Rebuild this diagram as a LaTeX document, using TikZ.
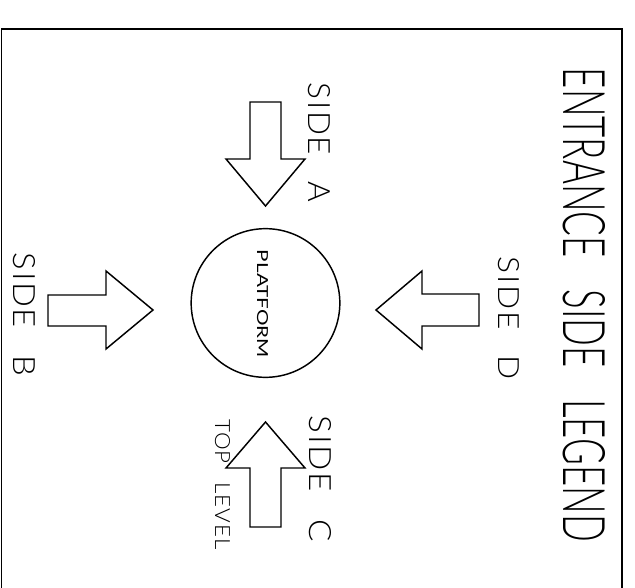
\documentclass[tikz,border=0pt]{standalone}
\usepackage{fontspec}
\IfFontExistsTF{Lato Light}
  {\newfontfamily\cadfont[WordSpace=3.2]{Lato Light}
   \newfontfamily\cadsidefont[WordSpace=2.6,LetterSpace=5]{Lato Light}
   \newfontfamily\cadsmallfont[WordSpace=1.5]{Lato}}
  {\newfontfamily\cadfont[WordSpace=3.2]{DejaVu Sans Mono}
   \newfontfamily\cadsidefont{DejaVu Sans Mono}
   \newfontfamily\cadsmallfont{DejaVu Sans Mono}}
\usepackage{xcolor}

\tikzset{
  legend text/.style={rotate=-90, inner sep=0pt, font=\cadfont},
  side text/.style={rotate=-90, inner sep=0pt, font=\cadsidefont},
  small text/.style={rotate=-90, inner sep=0pt, font=\cadsmallfont},
  block arrow/.style={line width=1.1pt, line join=miter},
}

\begin{document}
\begin{tikzpicture}[x=0.75pt,y=0.75pt,yscale=-1,xscale=1]
\useasboundingbox (0,0) rectangle (635,588);

%Straight Lines [frame]
\draw [line width=1.1pt]   (1.5,588) -- (1.5,29) -- (622,29) -- (622,588) ;

%Shape: Circle [platform]
\draw (265.5,303) node [circle, draw, line width=1.1pt, minimum size=111.5pt, inner sep=0pt] (platform) {} ;

%Shape: Arrow [side A, pointing down]
\draw [block arrow]   (250,102) -- (281,102) -- (281,159) -- (305,159) -- (265.5,206) -- (226,159) -- (250,159) -- cycle ;
%Shape: Arrow [side B, pointing right]
\draw [block arrow]   (48,295) -- (106,295) -- (106,271) -- (153,310) -- (106,349) -- (106,326) -- (48,326) -- cycle ;
%Shape: Arrow [side C, pointing up]
\draw [block arrow]   (250,527) -- (281,527) -- (281,468) -- (305,468) -- (265.5,422) -- (226,468) -- (250,468) -- cycle ;
%Shape: Arrow [side D, pointing left]
\draw [block arrow]   (479,294) -- (422,294) -- (422,271) -- (376,310) -- (422,349) -- (422,326) -- (479,326) -- cycle ;

% Text Node
\draw (584,305) node [legend text] (title) {\resizebox{355.5pt}{31.5pt}{ENTRANCE SIDE LEGEND}};
% Text Node
\draw (262.5,304) node [small text] (platformlabel) {\resizebox{81pt}{8.25pt}{PLATFORM}};
% Text Node
\draw (319,142.5) node [side text] (sideA) {\resizebox{89.25pt}{16.5pt}{SIDE A}};
% Text Node
\draw (24,314.5) node [side text] (sideB) {\resizebox{92.25pt}{16.5pt}{SIDE B}};
% Text Node
\draw (320,479) node [side text] (sideC) {\resizebox{94.5pt}{16.5pt}{SIDE C}};
% Text Node
\draw (508.5,318.5) node [side text] (sideD) {\resizebox{92.25pt}{15.75pt}{SIDE D}};
% Text Node
\draw (222.5,484.5) node [side text] (toplevel) {\resizebox{98.25pt}{11.25pt}{TOP LEVEL}};

\end{tikzpicture}
\end{document}
